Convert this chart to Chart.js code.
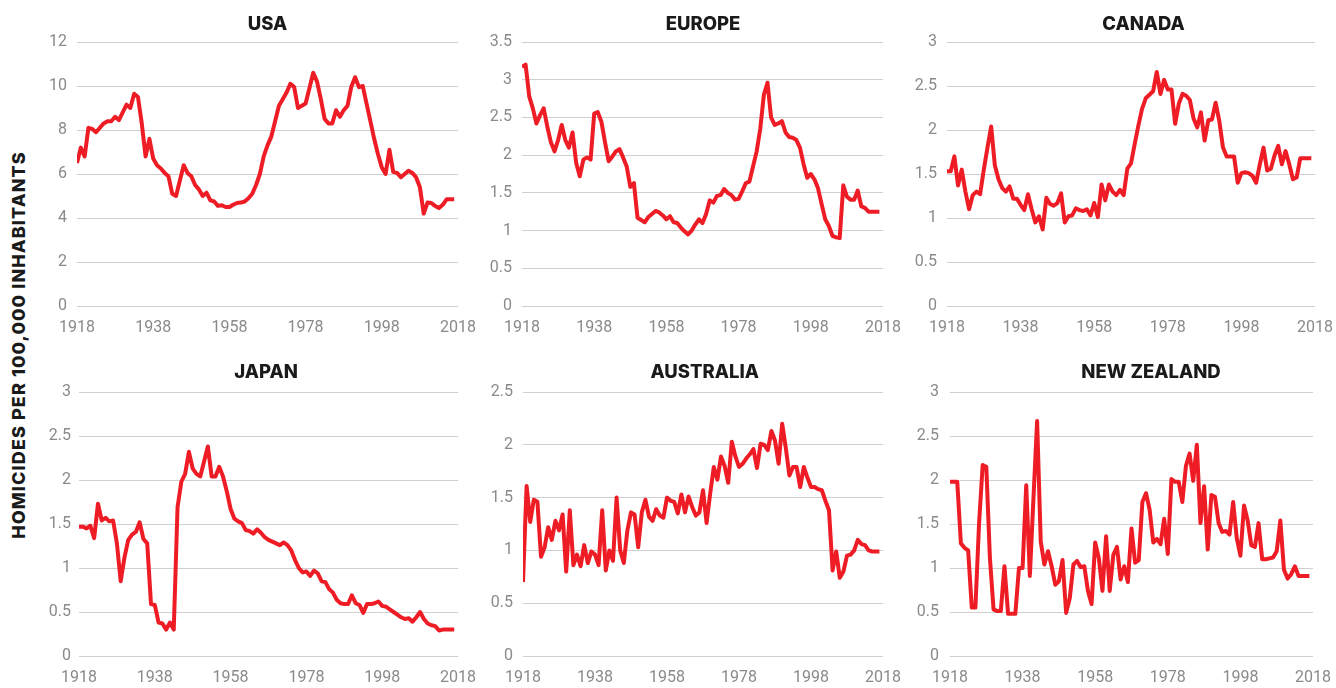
<!DOCTYPE html>
<html>
<head>
<meta charset="utf-8">
<script src="https://cdn.jsdelivr.net/npm/chart.js@4.4.1/dist/chart.umd.min.js"></script>
<style>
  html, body { margin: 0; padding: 0; background: #ffffff; width: 1336px; height: 688px; overflow: hidden; }
  canvas { position: absolute; }
  #ytitle {
    position: absolute; left: 18px; top: 345px;
    transform: translate(-50%, -50%) rotate(-90deg);
    font: 800 18px Inter, "Open Sans", sans-serif; color: #1a1a1a;
    letter-spacing: 1.1px;
    white-space: nowrap;
  }
</style>
</head>
<body>
<div id="ytitle">HOMICIDES PER 100,000 INHABITANTS</div>
<canvas id="c0"></canvas>
<canvas id="c1"></canvas>
<canvas id="c2"></canvas>
<canvas id="c3"></canvas>
<canvas id="c4"></canvas>
<canvas id="c5"></canvas>
<script>
// Years covered by every series
const years = [
  1918, 1919, 1920, 1921, 1922, 1923, 1924, 1925, 1926, 1927,
  1928, 1929, 1930, 1931, 1932, 1933, 1934, 1935, 1936, 1937,
  1938, 1939, 1940, 1941, 1942, 1943, 1944, 1945, 1946, 1947,
  1948, 1949, 1950, 1951, 1952, 1953, 1954, 1955, 1956, 1957,
  1958, 1959, 1960, 1961, 1962, 1963, 1964, 1965, 1966, 1967,
  1968, 1969, 1970, 1971, 1972, 1973, 1974, 1975, 1976, 1977,
  1978, 1979, 1980, 1981, 1982, 1983, 1984, 1985, 1986, 1987,
  1988, 1989, 1990, 1991, 1992, 1993, 1994, 1995, 1996, 1997,
  1998, 1999, 2000, 2001, 2002, 2003, 2004, 2005, 2006, 2007,
  2008, 2009, 2010, 2011, 2012, 2013, 2014, 2015, 2016, 2017
];

// Homicides per 100,000 inhabitants
const usa = [
  6.5, 7.2, 6.8, 8.1, 8.05, 7.9, 8.1, 8.3, 8.4, 8.4,
  8.6, 8.45, 8.8, 9.15, 9.0, 9.65, 9.5, 8.3, 6.8, 7.6,
  6.7, 6.4, 6.25, 6.05, 5.9, 5.1, 5.0, 5.7, 6.4, 6.05,
  5.9, 5.5, 5.3, 5.0, 5.15, 4.8, 4.75, 4.55, 4.58, 4.5,
  4.5, 4.6, 4.68, 4.7, 4.75, 4.9, 5.1, 5.5, 6.0, 6.8,
  7.3, 7.7, 8.4, 9.1, 9.4, 9.7, 10.1, 9.95, 9.0, 9.1,
  9.2, 9.9, 10.6, 10.2, 9.4, 8.5, 8.3, 8.3, 8.9, 8.6,
  8.9, 9.1, 9.97, 10.4, 9.95, 10.0, 9.2, 8.4, 7.6, 6.9,
  6.3, 6.0, 7.1, 6.1, 6.05, 5.85, 6.0, 6.15, 6.05, 5.85,
  5.4, 4.2, 4.7, 4.68, 4.55, 4.45, 4.6, 4.85, 4.85, 4.85
];
const europe = [
  3.17, 3.2, 2.78, 2.62, 2.42, 2.53, 2.62, 2.38, 2.17, 2.05,
  2.2, 2.4, 2.2, 2.1, 2.3, 1.9, 1.72, 1.94, 1.97, 1.94,
  2.55, 2.57, 2.44, 2.17, 1.92, 1.98, 2.05, 2.08, 1.97, 1.85,
  1.58, 1.63, 1.17, 1.14, 1.11, 1.18, 1.22, 1.26, 1.24, 1.2,
  1.15, 1.19, 1.11, 1.1, 1.04, 0.99, 0.95, 1.0, 1.08, 1.15,
  1.1, 1.22, 1.4, 1.37, 1.46, 1.47, 1.55, 1.5, 1.47, 1.41,
  1.42, 1.52, 1.63, 1.65, 1.85, 2.05, 2.35, 2.8, 2.96, 2.5,
  2.4, 2.42, 2.45, 2.3, 2.24, 2.23, 2.2, 2.1, 1.88, 1.7,
  1.75, 1.68, 1.56, 1.35, 1.15, 1.06, 0.93, 0.91, 0.9, 1.6,
  1.45, 1.41, 1.41, 1.53, 1.32, 1.3, 1.25, 1.25, 1.25, 1.25
];
const canada = [
  1.53, 1.53, 1.7, 1.37, 1.55, 1.3, 1.1, 1.26, 1.3, 1.27,
  1.55, 1.8, 2.04, 1.6, 1.44, 1.34, 1.3, 1.36, 1.22, 1.22,
  1.15, 1.09, 1.27, 1.1, 0.95, 1.02, 0.87, 1.23, 1.16, 1.14,
  1.17, 1.28, 0.95, 1.02, 1.03, 1.11, 1.09, 1.08, 1.1, 1.03,
  1.17, 1.01, 1.38, 1.2, 1.38, 1.3, 1.26, 1.32, 1.26, 1.56,
  1.62, 1.84, 2.05, 2.24, 2.36, 2.4, 2.44, 2.66, 2.41, 2.57,
  2.46, 2.46, 2.07, 2.3, 2.41, 2.39, 2.34, 2.13, 2.03, 2.2,
  1.88, 2.11, 2.12, 2.31, 2.1, 1.8, 1.7, 1.7, 1.7, 1.4,
  1.51, 1.52, 1.51, 1.48, 1.4, 1.61, 1.8, 1.54, 1.56, 1.71,
  1.82, 1.61, 1.76, 1.61, 1.44, 1.46, 1.68, 1.68, 1.68, 1.68
];
const japan = [
  1.47, 1.47, 1.45, 1.48, 1.34, 1.73, 1.54, 1.57, 1.53, 1.54,
  1.28, 0.85, 1.12, 1.32, 1.38, 1.41, 1.52, 1.33, 1.28, 0.59,
  0.58, 0.38, 0.37, 0.3, 0.38, 0.3, 1.69, 1.98, 2.07, 2.32,
  2.13, 2.07, 2.04, 2.21, 2.38, 2.04, 2.04, 2.15, 2.04, 1.87,
  1.67, 1.56, 1.53, 1.51, 1.43, 1.42, 1.39, 1.44, 1.4, 1.35,
  1.32, 1.3, 1.28, 1.26, 1.29, 1.26, 1.2, 1.09, 1.0, 0.95,
  0.96, 0.91, 0.97, 0.94, 0.85, 0.84, 0.76, 0.72, 0.64, 0.6,
  0.59, 0.59, 0.69, 0.6, 0.58, 0.49, 0.59, 0.59, 0.6, 0.62,
  0.57, 0.56, 0.53, 0.5, 0.47, 0.44, 0.42, 0.43, 0.39, 0.44,
  0.5, 0.42, 0.37, 0.35, 0.34, 0.29, 0.3, 0.3, 0.3, 0.3
];
const australia = [
  0.7, 1.61, 1.27, 1.48, 1.46, 0.94, 1.03, 1.22, 1.1, 1.28,
  1.19, 1.34, 0.8, 1.38, 0.86, 0.96, 0.85, 1.05, 0.88, 0.99,
  0.96, 0.86, 1.38, 0.81, 1.0, 0.9, 1.5, 1.0, 0.88, 1.19,
  1.36, 1.34, 1.03, 1.36, 1.48, 1.32, 1.28, 1.39, 1.33, 1.31,
  1.5, 1.47, 1.46, 1.35, 1.53, 1.36, 1.51, 1.41, 1.33, 1.36,
  1.57, 1.26, 1.54, 1.79, 1.67, 1.89, 1.8, 1.64, 2.03, 1.89,
  1.79, 1.82, 1.87, 1.91, 1.96, 1.78, 2.01, 2.0, 1.95, 2.13,
  2.04, 1.82, 2.2, 1.97, 1.71, 1.79, 1.79, 1.6, 1.79, 1.69,
  1.6, 1.6, 1.58, 1.57, 1.47, 1.38, 0.81, 0.99, 0.74, 0.8,
  0.95, 0.96, 1.0, 1.1, 1.06, 1.05, 1.0, 0.99, 0.99, 0.99
];
const newZealand = [
  1.98, 1.98, 1.98, 1.28, 1.23, 1.2, 0.55, 0.55, 1.5, 2.17,
  2.15, 1.11, 0.53, 0.51, 0.51, 1.02, 0.48, 0.48, 0.48, 1.0,
  1.0, 1.94, 0.91, 1.8, 2.67, 1.3, 1.04, 1.19, 1.02, 0.81,
  0.85, 1.09, 0.49, 0.66, 1.04, 1.08, 1.01, 1.02, 0.74, 0.59,
  1.29, 1.11, 0.74, 1.36, 0.74, 1.15, 1.24, 0.87, 1.02, 0.84,
  1.45, 1.06, 1.09, 1.75, 1.85, 1.66, 1.29, 1.33, 1.27, 1.56,
  1.16, 2.01, 1.98, 1.98, 1.75, 2.16, 2.3, 1.99, 2.4, 1.51,
  1.93, 1.21, 1.83, 1.81, 1.51, 1.41, 1.42, 1.38, 1.75, 1.34,
  1.14, 1.71, 1.54, 1.26, 1.24, 1.51, 1.1, 1.1, 1.11, 1.12,
  1.19, 1.54, 0.98, 0.88, 0.93, 1.02, 0.91, 0.91, 0.91, 0.91
];

// Tick labels
const xTickYears = [1918, 1938, 1958, 1978, 1998, 2018];
const usaTicks = [0, 2, 4, 6, 8, 10, 12];
const europeTicks = [0, 0.5, 1, 1.5, 2, 2.5, 3, 3.5];
const canadaTicks = [0, 0.5, 1, 1.5, 2, 2.5, 3];
const japanTicks = [0, 0.5, 1, 1.5, 2, 2.5, 3];
const australiaTicks = [0, 0.5, 1, 1.5, 2, 2.5];
const newZealandTicks = [0, 0.5, 1, 1.5, 2, 2.5, 3];

const RED = '#ee1d25';
const GRID = '#cfcfcf';
const TICK_COLOR = '#8a8a8a';
const TICK_FONT = { family: 'Roboto, "Open Sans", sans-serif', size: 16, weight: '400' };

// Panel placement: plot-area edges in page pixels
const panels = [
  { id: 'c0', name: 'USA',         values: usa,        ticks: usaTicks,        left: 77,  right: 458,  row: 0, labelPad: 10, titleDx: 0 },
  { id: 'c1', name: 'EUROPE',      values: europe,     ticks: europeTicks,     left: 522, right: 883,  row: 0, labelPad: 10, titleDx: 0.5 },
  { id: 'c2', name: 'CANADA',      values: canada,     ticks: canadaTicks,     left: 947, right: 1315, row: 0, labelPad: 10, titleDx: 12.5 },
  { id: 'c3', name: 'JAPAN',       values: japan,      ticks: japanTicks,      left: 79,  right: 458,  row: 1, labelPad: 8,  titleDx: -2.5 },
  { id: 'c4', name: 'AUSTRALIA',   values: australia,  ticks: australiaTicks,  left: 523, right: 883,  row: 1, labelPad: 10, titleDx: 1.7 },
  { id: 'c5', name: 'NEW ZEALAND', values: newZealand, ticks: newZealandTicks, left: 950, right: 1313, row: 1, labelPad: 11, titleDx: 19.5 }
];

const rows = [
  { top: 0,   height: 345, plotTop: 42, plotBottom: 306, titleY: 24 },
  { top: 350, height: 338, plotTop: 42, plotBottom: 306, titleY: 22.5 }
];

const Y_AXIS_WIDTH = 50;
const PAD_RIGHT = 21;

// Bold panel heading drawn above each plot area
const panelTitle = {
  id: 'panelTitle',
  afterDraw(chart, args, opts) {
    const { ctx, chartArea } = chart;
    ctx.save();
    ctx.font = '800 18.5px Inter, "Open Sans", sans-serif';
    ctx.fillStyle = '#1a1a1a';
    ctx.textAlign = 'center';
    ctx.textBaseline = 'middle';
    ctx.fillText(opts.text, (chartArea.left + chartArea.right) / 2 + opts.dx, opts.y);
    ctx.restore();
  }
};

panels.forEach(p => {
  const row = rows[p.row];
  const canvas = document.getElementById(p.id);
  const width = (p.right - p.left) + Y_AXIS_WIDTH + PAD_RIGHT;
  const xAxisHeight = row.height - row.plotBottom;
  canvas.width = width;
  canvas.height = row.height;
  canvas.style.left = (p.left - Y_AXIS_WIDTH) + 'px';
  canvas.style.top = row.top + 'px';

  new Chart(canvas, {
    type: 'line',
    data: {
      datasets: [{
        data: years.map((yr, i) => ({ x: yr, y: p.values[i] })),
        borderColor: RED,
        borderWidth: 4,
        pointRadius: 0,
        tension: 0,
        fill: false,
        borderJoinStyle: 'round',
        borderCapStyle: 'butt'
      }]
    },
    options: {
      responsive: false,
      animation: false,
      events: [],
      layout: {
        padding: { left: 0, right: PAD_RIGHT, top: row.plotTop, bottom: 0 }
      },
      plugins: {
        legend: { display: false },
        tooltip: { enabled: false },
        title: { display: false },
        panelTitle: { text: p.name, dx: p.titleDx, y: row.titleY }
      },
      scales: {
        x: {
          type: 'linear',
          min: 1918,
          max: 2018,
          afterBuildTicks: s => { s.ticks = xTickYears.map(v => ({ value: v })); },
          afterFit: s => { s.height = xAxisHeight; s.paddingLeft = 0; s.paddingRight = 0; },
          grid: { display: false, drawTicks: false },
          border: { display: false },
          ticks: {
            padding: 12.5,
            autoSkip: false,
            maxRotation: 0,
            font: TICK_FONT,
            color: TICK_COLOR,
            callback: v => String(v)
          }
        },
        y: {
          min: 0,
          max: p.ticks[p.ticks.length - 1],
          afterBuildTicks: s => { s.ticks = p.ticks.map(v => ({ value: v })); },
          afterFit: s => { s.width = Y_AXIS_WIDTH; },
          grid: { color: GRID, lineWidth: 1, drawTicks: false },
          border: { display: false },
          ticks: {
            padding: p.labelPad,
            autoSkip: false,
            font: TICK_FONT,
            color: TICK_COLOR,
            callback: v => String(v)
          }
        }
      }
    },
    plugins: [panelTitle]
  });
});
</script>
</body>
</html>
